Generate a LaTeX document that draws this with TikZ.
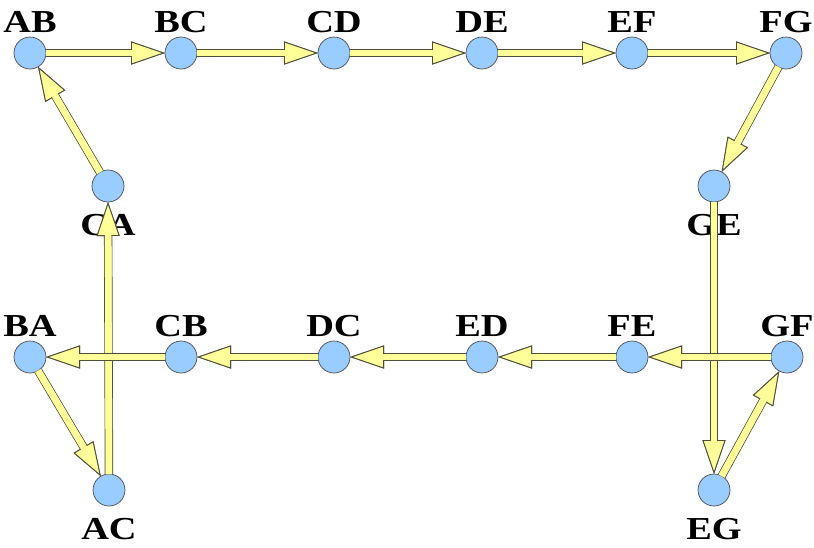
\documentclass[tikz,border=0pt]{standalone}
\usepackage{fontspec}
\newfontfamily\lblfont[FakeStretch=1.2]{Liberation Serif}
\usetikzlibrary{arrows.meta}
\definecolor{flowfill}{RGB}{255,255,153}
\definecolor{flowline}{RGB}{80,80,60}
\definecolor{nodeblue}{RGB}{153,204,255}

\begin{document}
\begin{tikzpicture}[x=1pt,y=-1pt,
  place/.style={circle,draw=black!70,fill=nodeblue,line width=0.7pt,minimum size=32pt,inner sep=0pt,outer sep=0pt},
  lbl/.style={font=\lblfont\bfseries\fontsize{32}{32}\selectfont,inner sep=0pt,text=black},
  up/.style={label={[lbl,label distance=4pt]above:#1}},
  down/.style={label={[lbl,label distance=12pt]below:#1}},
  flow/.style={draw=flowfill,line width=6.6pt,
    -{Triangle[length=34pt,width=23pt,line width=0.9pt,color=flowline,fill=flowfill]},
    preaction={draw=flowline,line width=8.4pt,-{Triangle[length=34pt,width=23pt,line width=0.9pt]}},
    postaction={draw=flowfill,line width=6.6pt,-,shorten >=22pt}},
]
\useasboundingbox (0,0) rectangle (814,547);
\node[place,up=AB] (AB) at (30,53) {};
\node[place,up=BC] (BC) at (181,53) {};
\node[place,up=CD] (CD) at (334,53) {};
\node[place,up=DE] (DE) at (482,53) {};
\node[place,up=EF] (EF) at (632,53) {};
\node[place,up=FG] (FG) at (786,53) {};
\node[place,down=CA] (CA) at (108,186) {};
\node[place,down=GE] (GE) at (714,186) {};
\node[place,up=BA] (BA) at (30,357) {};
\node[place,up=CB] (CB) at (181,357) {};
\node[place,up=DC] (DC) at (334,357) {};
\node[place,up=ED] (ED) at (482,357) {};
\node[place,up=FE] (FE) at (632,357) {};
\node[place,up=GF] (GF) at (787,357) {};
\node[place,down=AC] (AC) at (109,490) {};
\node[place,down=EG] (EG) at (714,490) {};
\draw[flow] (AB) -- (BC);
\draw[flow] (BC) -- (CD);
\draw[flow] (CD) -- (DE);
\draw[flow] (DE) -- (EF);
\draw[flow] (EF) -- (FG);
\draw[flow] (FG) -- (GE);
\draw[flow] (GE) -- (EG);
\draw[flow] (EG) -- (GF);
\draw[flow] (GF) -- (FE);
\draw[flow] (FE) -- (ED);
\draw[flow] (ED) -- (DC);
\draw[flow] (DC) -- (CB);
\draw[flow] (AC) -- (CA);
\draw[flow] (CB) -- (BA);
\draw[flow] (BA) -- (AC);
\draw[flow] (CA) -- (AB);
\end{tikzpicture}
\end{document}
